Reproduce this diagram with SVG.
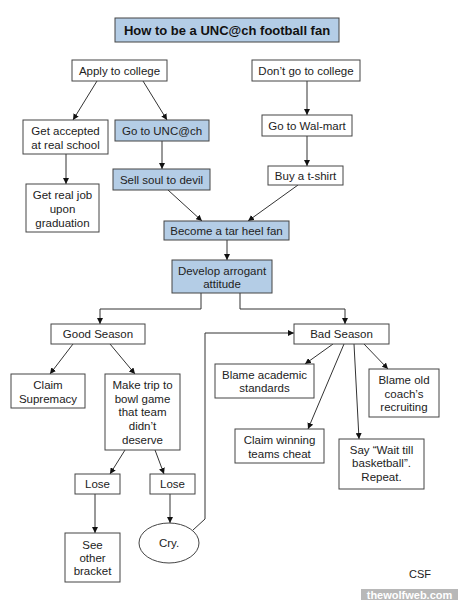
<svg xmlns="http://www.w3.org/2000/svg" width="458" height="600" viewBox="0 0 458 600">
<defs>
<marker id="ah" viewBox="0 0 10 10" refX="10" refY="5" markerWidth="6" markerHeight="6" orient="auto" markerUnits="userSpaceOnUse">
<path d="M0,0 L10,5 L0,10 z" fill="#111"/>
</marker>
<style>
.b{fill:#fff;stroke:#444;stroke-width:1}
.u{fill:#b4cde6;stroke:#444;stroke-width:1}
.t{font-family:"Liberation Sans",Arial,sans-serif;font-size:11.5px;fill:#222;text-anchor:middle}
.c{fill:none;stroke:#333;stroke-width:1}
.a{marker-end:url(#ah)}
</style>
</defs>
<rect width="458" height="600" fill="#fff"/>
<g id="title">
<rect class="u" x="115" y="18" width="224" height="24" stroke-width="1.5"/>
<text class="t" x="227" y="35" style="font-weight:bold;font-size:13px;fill:#111">How to be a UNC@ch football fan</text>
</g>
<g id="connectors">
<line class="c a" x1="97" y1="81" x2="73" y2="120"/>
<line class="c a" x1="143" y1="81" x2="167" y2="120"/>
<line class="c a" x1="66" y1="154" x2="66" y2="184"/>
<line class="c a" x1="162" y1="141" x2="162" y2="169"/>
<line class="c a" x1="168" y1="190" x2="202" y2="221"/>
<line class="c a" x1="307" y1="81" x2="307" y2="115"/>
<line class="c a" x1="307" y1="136" x2="307" y2="166"/>
<line class="c a" x1="298" y1="185" x2="248" y2="221"/>
<line class="c a" x1="227" y1="240" x2="227" y2="260"/>
<polyline class="c a" points="201,293 201,309 100,309 100,324"/>
<polyline class="c a" points="240,293 240,309 345,309 345,324"/>
<line class="c a" x1="73" y1="344" x2="50" y2="374"/>
<line class="c a" x1="110" y1="344" x2="135" y2="374"/>
<line class="c a" x1="333" y1="344" x2="305" y2="364"/>
<line class="c a" x1="364" y1="344" x2="388" y2="369"/>
<line class="c a" x1="344" y1="344" x2="308" y2="429"/>
<line class="c a" x1="354" y1="344" x2="359" y2="439"/>
<line class="c a" x1="125" y1="450" x2="110" y2="474"/>
<line class="c a" x1="155" y1="450" x2="164" y2="474"/>
<line class="c a" x1="95" y1="494" x2="95" y2="533"/>
<line class="c a" x1="170" y1="494" x2="170" y2="523"/>
<polyline class="c a" points="193,530 205,519 205,333 294,333"/>
</g>
<g id="apply">
<rect class="b" x="72" y="60" width="95" height="21"/>
<text class="t" x="119.5" y="75">Apply to college</text>
</g>
<g id="dontgo">
<rect class="b" x="252" y="60" width="108" height="21"/>
<text class="t" x="306" y="75">Don’t go to college</text>
</g>
<g id="accepted">
<rect class="b" x="23" y="120" width="85" height="34"/>
<text class="t" x="65.5" y="135">Get accepted</text>
<text class="t" x="65.5" y="149">at real school</text>
</g>
<g id="gounc">
<rect class="u" x="115" y="120" width="94" height="21"/>
<text class="t" x="162" y="135">Go to UNC@ch</text>
</g>
<g id="walmart">
<rect class="b" x="262" y="115" width="90" height="21"/>
<text class="t" x="307" y="130">Go to Wal-mart</text>
</g>
<g id="tshirt">
<rect class="b" x="268" y="166" width="75" height="19"/>
<text class="t" x="305.5" y="180">Buy a t-shirt</text>
</g>
<g id="sellsoul">
<rect class="u" x="113" y="169" width="97" height="21"/>
<text class="t" x="161.5" y="184">Sell soul to devil</text>
</g>
<g id="realjob">
<rect class="b" x="26" y="184" width="73" height="48"/>
<text class="t" x="62.5" y="199">Get real job</text>
<text class="t" x="62.5" y="213">upon</text>
<text class="t" x="62.5" y="227">graduation</text>
</g>
<g id="tarheel">
<rect class="u" x="164" y="221" width="125" height="19"/>
<text class="t" x="226.5" y="235">Become a tar heel fan</text>
</g>
<g id="arrogant">
<rect class="u" x="172" y="260" width="100" height="33"/>
<text class="t" x="222" y="275">Develop arrogant</text>
<text class="t" x="222" y="288">attitude</text>
</g>
<g id="good">
<rect class="b" x="51" y="324" width="94" height="20"/>
<text class="t" x="98" y="338">Good Season</text>
</g>
<g id="bad">
<rect class="b" x="294" y="324" width="95" height="20"/>
<text class="t" x="341.5" y="338">Bad Season</text>
</g>
<g id="supremacy">
<rect class="b" x="11" y="374" width="74" height="34"/>
<text class="t" x="48" y="389">Claim</text>
<text class="t" x="48" y="403">Supremacy</text>
</g>
<g id="bowl">
<rect class="b" x="105" y="374" width="75" height="76"/>
<text class="t" x="142.5" y="389">Make trip to</text>
<text class="t" x="142.5" y="403">bowl game</text>
<text class="t" x="142.5" y="416">that team</text>
<text class="t" x="142.5" y="430">didn’t</text>
<text class="t" x="142.5" y="444">deserve</text>
</g>
<g id="academic">
<rect class="b" x="215" y="364" width="99" height="34"/>
<text class="t" x="264.5" y="379">Blame academic</text>
<text class="t" x="264.5" y="392">standards</text>
</g>
<g id="coach">
<rect class="b" x="369" y="369" width="70" height="48"/>
<text class="t" x="404" y="384">Blame old</text>
<text class="t" x="404" y="398">coach’s</text>
<text class="t" x="404" y="411">recruiting</text>
</g>
<g id="cheat">
<rect class="b" x="235" y="429" width="89" height="34"/>
<text class="t" x="279.5" y="444">Claim winning</text>
<text class="t" x="279.5" y="458">teams cheat</text>
</g>
<g id="wait">
<rect class="b" x="339" y="439" width="85" height="50"/>
<text class="t" x="381.5" y="454">Say “Wait till</text>
<text class="t" x="381.5" y="467">basketball”.</text>
<text class="t" x="381.5" y="481">Repeat.</text>
</g>
<g id="lose1">
<rect class="b" x="75" y="474" width="45" height="20"/>
<text class="t" x="97.5" y="488">Lose</text>
</g>
<g id="lose2">
<rect class="b" x="150" y="474" width="45" height="20"/>
<text class="t" x="172.5" y="488">Lose</text>
</g>
<g id="bracket">
<rect class="b" x="65" y="533" width="55" height="49"/>
<text class="t" x="92.5" y="549">See</text>
<text class="t" x="92.5" y="562">other</text>
<text class="t" x="92.5" y="575">bracket</text>
</g>
<g id="cry">
<ellipse class="b" cx="169" cy="543" rx="30" ry="20"/>
<text class="t" x="169" y="547">Cry.</text>
</g>
<text class="t" x="420" y="578" style="font-size:11px">CSF</text>
<rect x="361" y="589" width="97" height="11" fill="#b8b8b8"/>
<text class="t" x="409.5" y="598.5" style="font-size:11px;font-weight:bold;fill:#fff">thewolfweb.com</text>
</svg>
